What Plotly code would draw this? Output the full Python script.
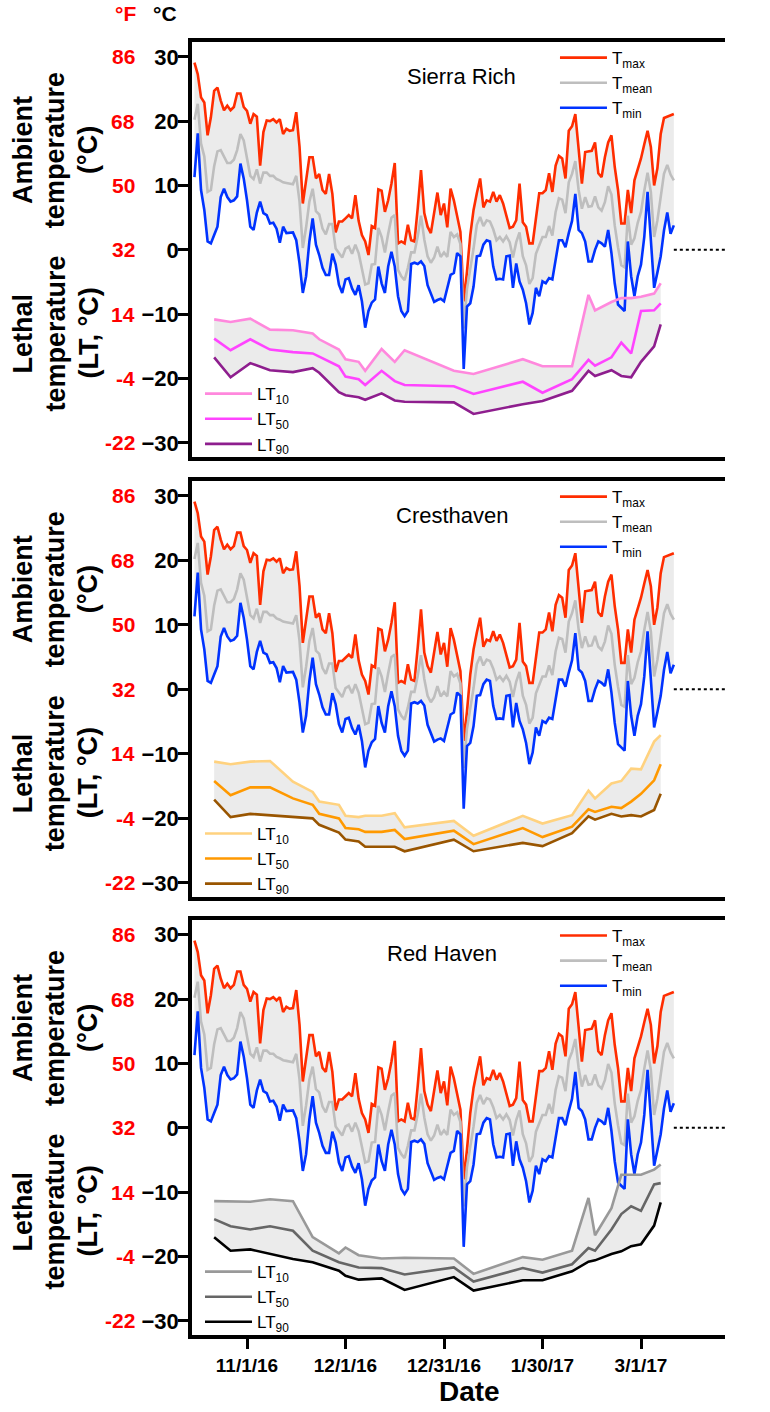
import pandas as pd
import plotly.graph_objects as go

FONT = "Liberation Sans, Arial, Helvetica, sans-serif"

# ---------------- data ----------------
start_date = "2016-10-16"

tmax = [29.1, 27.3, 23.7, 22.9, 17.8, 20.6, 24.7, 25.2, 23.2, 21.7,
        22.4, 21.7, 22.2, 24.3, 24.3, 22.2, 21.6, 19.6, 21.1, 20.7,
        13.1, 18.3, 20.1, 20.0, 20.3, 19.8, 20.3, 18.0, 18.8, 18.5,
        18.6, 21.4, 16.0, 7.2, 10.8, 14.4, 14.4, 11.1, 11.8, 9.3,
        8.7, 11.8, 8.7, 2.7, 4.4, 4.4, 4.9, 5.4, 4.9, 8.5,
        4.5, 2.3, 1.3, -0.8, 3.7, 3.4, 9.4, 9.2, 5.9, 7.7,
        10.3, 13.5, 1.0, 1.3, 1.0, 3.9, 1.5, 1.3, 6.5, 12.4,
        5.7, 3.6, 2.6, 5.7, 8.9, 5.4, 7.2, 3.5, 9.5, 7.7,
        5.2, 2.8, -8.0, -3.4, 2.3, 6.2, 8.8, 11.1, 6.6, 7.7,
        7.5, 9.0, 7.5, 8.5, 7.2, 5.2, 3.4, 3.6, 4.6, 10.3,
        4.3, 3.6, 1.0, 1.0, 4.6, 8.8, 8.8, 9.3, 11.9, 9.0,
        13.1, 14.6, 14.2, 11.1, 18.5, 19.2, 21.1, 15.5, 10.3, 15.2,
        15.3, 15.4, 16.7, 11.9, 11.3, 14.4, 16.7, 17.8, 12.9, 9.3,
        4.1, 4.1, 9.3, 5.7, 10.8, 12.5, 14.2, 16.4, 18.5, 16.0,
        10.0, 12.7, 18.0, 20.5, 20.7, 20.9, 21.1]

tmean = [20.2, 22.7, 16.5, 14.5, 9.0, 9.3, 13.0, 15.3, 15.5, 14.5,
         13.5, 13.5, 14.0, 15.5, 18.0, 17.0, 14.5, 11.5, 11.0, 12.5,
         10.3, 12.0, 12.0, 11.5, 11.5, 11.0, 10.8, 10.5, 10.4, 10.3,
         10.2, 11.5, 7.5, 0.3, 3.5, 7.5, 9.5, 6.0, 5.5, 3.3,
         2.4, 4.0, 4.0, 0.2, -0.5, -1.2, 0.2, 0.5, -0.6, 0.8,
         -0.5, -2.8, -5.4, -5.2, -2.3, -2.2, 3.4, 2.0, -0.4, 2.5,
         5.0, 5.4, -3.1, -4.1, -4.7, -2.8, -0.4, -0.4, 2.1, 5.3,
         1.6, -1.0, -2.0, -1.2, 0.5, -1.1, -0.4, -1.1, 2.8, 2.0,
         2.4, 0.9, -12.2, -6.1, -3.0, 0.2, 3.9, 5.1, 3.7, 4.6,
         4.4, 3.2, 1.5, 2.0, 1.3, 2.1, 1.2, -1.2, 1.2, 2.7,
         -1.0, -2.4, -5.3, -4.4, -0.6, 0.8, 2.0, 2.0, 3.7, 2.2,
         5.9, 8.0, 7.8, 5.7, 10.5, 11.8, 13.8, 9.3, 6.4, 8.2,
         6.7, 6.8, 8.3, 6.6, 6.1, 7.4, 9.9, 8.6, 3.8, 0.4,
         -2.4, -2.7, 5.3, 0.8, 1.8, 4.2, 5.9, 9.2, 12.0, 9.0,
         2.0, 4.6, 8.5, 11.8, 13.2, 11.7, 10.8]

tmin = [11.3, 18.1, 9.3, 6.2, 1.3, 1.0, 2.3, 3.6, 8.2, 9.5,
        8.2, 7.5, 7.7, 8.3, 13.4, 11.1, 7.7, 3.6, 3.1, 5.8,
        7.5, 5.7, 5.4, 4.1, 4.2, 3.3, 1.1, 3.6, 2.6, 2.7,
        2.7, 1.5, -2.1, -6.7, -4.1, 1.3, 4.9, 0.8, -0.8, -2.8,
        -3.9, -3.9, -0.6, -2.3, -5.4, -6.7, -4.6, -4.4, -6.0, -7.0,
        -5.5, -8.0, -12.1, -9.5, -8.2, -7.7, -2.6, -5.2, -6.7, -2.6,
        -0.3, -2.6, -7.2, -9.5, -10.3, -9.5, -2.2, -2.0, -2.2, -1.8,
        -2.5, -5.5, -6.7, -8.1, -7.8, -7.6, -8.0, -5.7, -3.9, -3.6,
        -0.5, -1.0, -18.5, -8.8, -8.3, -5.7, -1.0, -0.9, 0.8, 1.5,
        1.3, -2.6, -4.6, -4.5, -4.6, -1.0, -0.9, -5.9, -2.1, -4.9,
        -6.2, -8.3, -11.6, -9.8, -5.9, -7.2, -4.9, -5.2, -4.4, -4.6,
        -1.3, 1.5, 1.5, 0.4, 2.6, 4.5, 8.7, 3.1, 2.6, 1.3,
        -1.8, -1.8, 0.0, 1.3, 1.0, 0.5, 3.1, -0.5, -5.2, -8.5,
        -9.0, -9.5, 1.3, -4.1, -7.2, -4.1, -2.3, 2.0, 9.0, 2.1,
        -5.9, -3.5, -1.0, 3.0, 5.8, 2.5, 3.8]

# LT sampling dates
lt_dates_a = ["2016-10-22", "2016-10-27", "2016-11-02", "2016-11-08", "2016-11-15",
              "2016-11-21", "2016-11-23", "2016-11-29", "2016-12-01", "2016-12-05",
              "2016-12-07", "2016-12-12", "2016-12-16", "2016-12-19", "2017-01-03",
              "2017-01-09", "2017-01-24", "2017-01-30", "2017-02-08", "2017-02-13",
              "2017-02-15", "2017-02-20", "2017-02-23", "2017-02-26", "2017-03-01",
              "2017-03-05", "2017-03-07"]
lt_dates_b = ["2016-10-22", "2016-10-27", "2016-11-02", "2016-11-08", "2016-11-15",
              "2016-11-21", "2016-11-29", "2016-12-01", "2016-12-05", "2016-12-12",
              "2016-12-19", "2017-01-03", "2017-01-09", "2017-01-24", "2017-01-30",
              "2017-02-08", "2017-02-13", "2017-02-15", "2017-02-20", "2017-02-23",
              "2017-02-26", "2017-03-01", "2017-03-05", "2017-03-07"]

sierra_lt10 = [-10.8, -11.2, -10.7, -12.4, -12.5, -13.0, -13.9, -15.5, -17.0, -17.4,
               -18.8, -15.4, -17.4, -15.6, -18.8, -19.3, -17.0, -18.1, -18.1, -7.0,
               -9.4, -8.1, -7.5, -7.5, -7.3, -6.8, -5.2]
sierra_lt50 = [-13.8, -15.6, -13.9, -15.5, -15.9, -16.1, -16.6, -18.1, -19.7, -20.1,
               -21.0, -18.8, -20.4, -21.0, -21.2, -22.4, -20.5, -22.2, -20.1, -17.1,
               -18.0, -16.7, -14.4, -16.1, -9.5, -9.4, -8.3]
sierra_lt90 = [-16.7, -19.8, -17.6, -18.7, -19.0, -18.4, -19.1, -22.1, -22.6, -22.9,
               -23.3, -22.3, -23.4, -23.6, -23.7, -25.5, -24.0, -23.5, -21.9, -18.8,
               -19.6, -18.7, -19.6, -19.8, -17.4, -15.0, -11.6]

crest_lt10 = [-11.2, -11.6, -11.2, -11.1, -14.3, -15.9, -17.4, -17.9, -19.6, -19.8,
              -19.6, -19.6, -19.2, -21.4, -20.4, -22.7, -19.6, -20.8, -19.5, -15.7,
              -16.9, -14.6, -14.2, -12.3, -12.4, -8.1, -7.1]
crest_lt50 = [-14.2, -16.4, -15.2, -15.2, -16.9, -17.9, -19.3, -20.0, -21.5, -21.7,
              -22.1, -22.1, -21.8, -23.2, -21.9, -24.0, -21.5, -22.9, -21.3, -18.6,
              -19.0, -18.2, -18.4, -17.4, -16.2, -14.1, -11.6]
crest_lt90 = [-17.1, -19.8, -19.3, -19.5, -19.8, -20.0, -21.0, -22.2, -23.3, -23.6,
              -24.4, -24.4, -24.4, -25.1, -23.3, -25.1, -23.8, -24.3, -22.3, -19.7,
              -20.2, -19.3, -19.7, -19.5, -19.7, -18.7, -16.2]

red_lt10 = [-11.4, -11.4, -11.5, -11.1, -11.4, -17.0, -19.5, -18.6, -19.8, -20.3,
            -20.2, -20.3, -22.7, -20.1, -20.5, -19.1, -10.9, -16.7, -12.5, -7.3,
            -7.3, -7.3, -6.5, -5.7]
red_lt50 = [-14.2, -15.3, -15.8, -15.3, -16.0, -19.1, -20.9, -21.2, -21.7, -21.8,
            -22.8, -21.7, -23.9, -21.8, -22.5, -21.2, -18.7, -19.1, -15.8, -13.4,
            -12.2, -12.9, -8.8, -8.6]
red_lt90 = [-17.0, -19.1, -18.9, -19.6, -20.4, -20.9, -22.2, -23.0, -23.6, -23.4,
            -25.2, -23.2, -25.3, -23.7, -23.7, -22.3, -20.8, -20.6, -19.6, -19.2,
            -18.4, -18.1, -15.2, -11.6]

cultivars = ["Sierra Rich", "Cresthaven", "Red Haven"]
c_ticks = [30, 20, 10, 0, -10, -20, -30]
f_labels = ["86", "68", "50", "32", "14", "-4", "-22"]
x_tickvals = ["2016-11-01", "2016-12-01", "2016-12-31", "2017-01-30", "2017-03-01"]
x_ticktext = ["11/1/16", "12/1/16", "12/31/16", "1/30/17", "3/1/17"]

# ---------------- style ----------------
X_RANGE = ["2016-10-15 06:00", "2017-03-26 14:00"]
Y_RANGE = [-32.2, 32.3]
DOMAINS = [[0.679, 1.0], [0.3387, 0.6605], [0.0, 0.321]]
FILL = "#EBEBEB"
T_COLORS = {"max": "#FF2D00", "mean": "#BEBEBE", "min": "#0033FF"}
LT_COLORS = [["#FF88DD", "#FF44FF", "#8E1E8E"],
             ["#FFD27F", "#FF9900", "#995500"],
             ["#999999", "#666666", "#000000"]]
TITLE_X = [0.505, 0.488, 0.469]
YTITLE_X = [-0.3171, -0.2570, -0.1951]
F_LABEL_X = -0.1032

panels = [
    (lt_dates_a, sierra_lt10, sierra_lt50, sierra_lt90),
    (lt_dates_a, crest_lt10, crest_lt50, crest_lt90),
    (lt_dates_b, red_lt10, red_lt50, red_lt90),
]

dates = pd.date_range(start_date, periods=len(tmax), freq="D")

fig = go.Figure()
layout = dict(
    width=770, height=1412,
    margin=dict(l=192, r=45, t=42, b=77),
    paper_bgcolor="white", plot_bgcolor="white",
    font=dict(family=FONT, color="black"),
    showlegend=True,
)
annotations = []


def ax_name(prefix, n):
    return prefix + ("" if n == 1 else str(n))


for k in range(3):
    xn = k + 1
    ym, yr = 2 * k + 1, 2 * k + 2
    xref = ax_name("x", xn)
    ymref = ax_name("y", ym)
    leg_t = ax_name("legend", 2 * k + 1)
    leg_lt = ax_name("legend", 2 * k + 2)
    ltd, l10, l50, l90 = panels[k]

    # ambient fill (under lines)
    fig.add_trace(go.Scatter(x=dates, y=tmin, mode="lines", line=dict(width=0),
                             showlegend=False, hoverinfo="skip", xaxis=xref, yaxis=ymref))
    fig.add_trace(go.Scatter(x=dates, y=tmax, mode="lines", line=dict(width=0),
                             fill="tonexty", fillcolor=FILL, showlegend=False,
                             hoverinfo="skip", xaxis=xref, yaxis=ymref))
    # LT fill
    fig.add_trace(go.Scatter(x=ltd, y=l90, mode="lines", line=dict(width=0),
                             showlegend=False, hoverinfo="skip", xaxis=xref, yaxis=ymref))
    fig.add_trace(go.Scatter(x=ltd, y=l10, mode="lines", line=dict(width=0),
                             fill="tonexty", fillcolor=FILL, showlegend=False,
                             hoverinfo="skip", xaxis=xref, yaxis=ymref))
    # dotted zero line after the data end
    fig.add_trace(go.Scatter(x=[dates[-1], X_RANGE[1]], y=[0, 0], mode="lines",
                             line=dict(color="black", width=2, dash="dot"),
                             showlegend=False, hoverinfo="skip", xaxis=xref, yaxis=ymref))
    # ambient lines
    for key, vals, name in [("max", tmax, "T<sub>max</sub>"),
                            ("mean", tmean, "T<sub>mean</sub>"),
                            ("min", tmin, "T<sub>min</sub>")]:
        fig.add_trace(go.Scatter(x=dates, y=vals, mode="lines", name=name,
                                 line=dict(color=T_COLORS[key], width=2.6),
                                 legend=leg_t, xaxis=xref, yaxis=ymref))
    # LT lines
    for vals, name, col in [(l10, "LT<sub>10</sub>", LT_COLORS[k][0]),
                            (l50, "LT<sub>50</sub>", LT_COLORS[k][1]),
                            (l90, "LT<sub>90</sub>", LT_COLORS[k][2])]:
        fig.add_trace(go.Scatter(x=ltd, y=vals, mode="lines", name=name,
                                 line=dict(color=col, width=2.6),
                                 legend=leg_lt, xaxis=xref, yaxis=ymref))

    dom = DOMAINS[k]
    layout[ax_name("xaxis", xn)] = dict(
        domain=[0, 1], anchor=ymref, type="date", range=X_RANGE,
        tickvals=x_tickvals, ticktext=x_ticktext, showticklabels=(k == 2),
        ticks="outside" if k == 2 else "", ticklen=10, tickwidth=3, tickcolor="black",
        showline=True, linewidth=3.5, linecolor="black", mirror=True,
        showgrid=False, zeroline=False,
        tickfont=dict(family=FONT, size=19, color="black", weight="bold"))
    layout[ax_name("yaxis", ym)] = dict(
        domain=dom, anchor=xref, range=Y_RANGE, tickvals=c_ticks,
        ticks="outside", ticklen=10, tickwidth=3, tickcolor="black",
        showline=True, linewidth=3.5, linecolor="black",
        showgrid=False, zeroline=False, ticklabelstandoff=-5,
        tickfont=dict(family=FONT, size=22, color="black", weight="bold"))
    layout[ax_name("yaxis", yr)] = dict(
        overlaying=ymref, side="right", anchor=xref, range=Y_RANGE,
        tickvals=c_ticks, ticks="outside", ticklen=10, tickwidth=3, tickcolor="black",
        showline=True, linewidth=3.5, linecolor="black",
        showgrid=False, zeroline=False, ticklabelstandoff=-3,
        tickfont=dict(family=FONT, size=22, color="black", weight="bold"))

    h = dom[1] - dom[0]
    leg_common = dict(xref="paper", yref="paper", xanchor="left", yanchor="top",
                      bgcolor="rgba(0,0,0,0)", borderwidth=0,
                      font=dict(family=FONT, size=17, color="black"),
                      itemwidth=47, tracegroupgap=0, traceorder="normal")
    layout[leg_t] = dict(x=0.681, y=dom[1] + 0.0015, **leg_common)
    layout[leg_lt] = dict(x=0.015, y=dom[0] + 0.195 * h, **leg_common)

    # cultivar title
    annotations.append(dict(text=cultivars[k], xref="paper", yref="paper",
                            x=TITLE_X[k], y=dom[1] - 0.082 * h,
                            showarrow=False, xanchor="center", yanchor="middle",
                            font=dict(family=FONT, size=22, color="black")))
    # y-axis titles, one annotation per line
    for lines, yc in [(["Ambient", "temperature", "(°C)"], 15.5),
                      (["Lethal", "temperature", "(LT, °C)"], -13.0)]:
        for xi, line in zip(YTITLE_X, lines):
            annotations.append(dict(text=line, xref="paper", yref=ymref,
                                    x=xi, y=yc, textangle=-90, showarrow=False,
                                    xanchor="center", yanchor="middle",
                                    font=dict(family=FONT, size=27, color="black",
                                              weight="bold")))
    # Fahrenheit labels
    for cv, fl in zip(c_ticks, f_labels):
        annotations.append(dict(text=fl, xref="paper", yref=ymref,
                                x=F_LABEL_X, y=cv, showarrow=False,
                                xanchor="right", yanchor="middle",
                                font=dict(family=FONT, size=21, color="#FF0000",
                                          weight="bold")))

annotations.append(dict(text="°F", xref="paper", yref="paper", x=-0.124, y=1.0217,
                        showarrow=False, xanchor="center", yanchor="middle",
                        font=dict(family=FONT, size=21, color="#FF0000", weight="bold")))
annotations.append(dict(text="°C", xref="paper", yref="paper", x=-0.0507, y=1.0217,
                        showarrow=False, xanchor="center", yanchor="middle",
                        font=dict(family=FONT, size=21, color="black", weight="bold")))
annotations.append(dict(text="Date", xref="paper", yref="paper", x=0.52, y=-0.044,
                        showarrow=False, xanchor="center", yanchor="middle",
                        font=dict(family=FONT, size=28, color="black", weight="bold")))

layout["annotations"] = annotations
fig.update_layout(**layout)
fig.write_html("out.html", config={"displayModeBar": False},
               post_script="document.body.style.margin='0px';")
